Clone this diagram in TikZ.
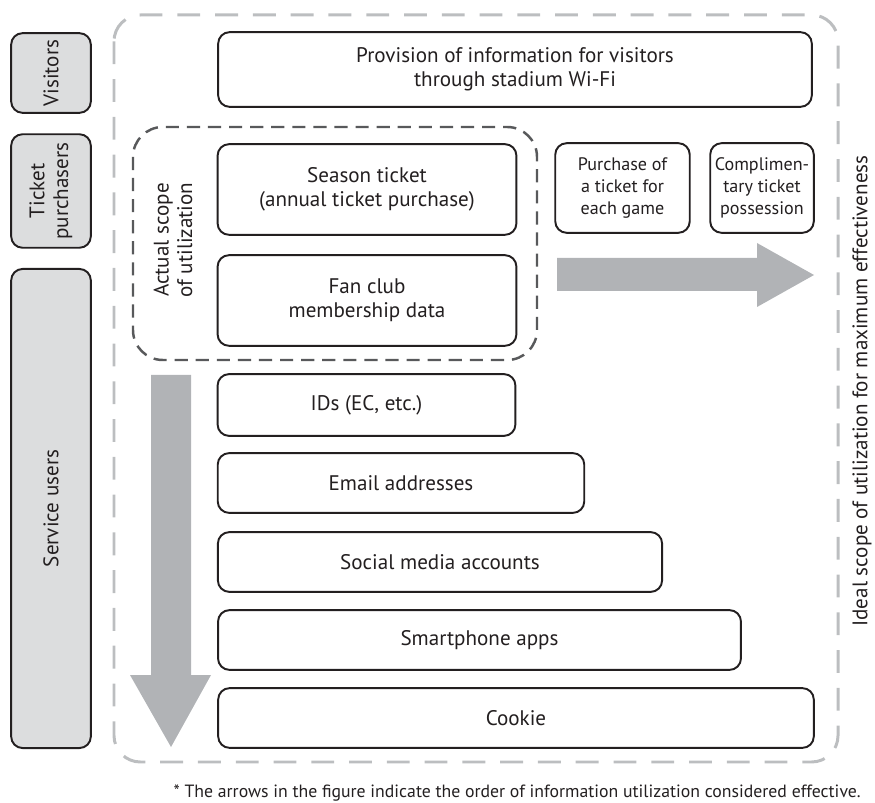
\documentclass[tikz,border=0pt]{standalone}
\usepackage{fontspec}
\setmainfont{PT Sans}
\definecolor{sidegray}{HTML}{DCDDDE}
\definecolor{outergray}{HTML}{BCBEC0}
\definecolor{innergray}{HTML}{58595B}
\definecolor{arrowgray}{HTML}{B1B3B6}
\definecolor{ink}{HTML}{231F20}
\tikzset{
  txt/.style={font=\fontsize{12}{13.5}\selectfont, text=ink, align=center},
  smalltxt/.style={font=\fontsize{10.3}{12.5}\selectfont},
  notetxt/.style={font=\fontsize{10.1}{12}\selectfont},
  sz/.style 2 args={minimum width=#1*0.5669pt, minimum height=#2*0.5669pt},
  box/.style={txt, draw=ink, line width=1.1pt, rounded corners=6.5pt, fill=white, inner sep=0pt},
  sidebox/.style={txt, draw=ink, line width=1.1pt, rounded corners=6.5pt, fill=sidegray, inner sep=0pt, rotate=90},
  outerdash/.style={draw=outergray, line width=1.7pt, rounded corners=15pt, dash pattern=on 13pt off 8.5pt},
  innerdash/.style={draw=innergray, line width=1.4pt, rounded corners=17pt, dash pattern=on 7.5pt off 4.5pt},
  bigarrow/.style={fill=arrowgray, draw=none},
}
\begin{document}
\begin{tikzpicture}[x=0.02cm,y=-0.02cm]
\useasboundingbox (0,0) rectangle (875,803);
% outer dashed scope
\draw[outerdash] (114,15) rectangle (838,762);
% side categories
\node[sidebox, sz={80}{80}] (vis) at (51,73) {Visitors};
\node[sidebox, sz={114}{80}] (tick) at (51,191) {Ticket\\purchasers};
\node[sidebox, sz={481}{80}] (serv) at (51,508.5) {Service users};
% inner dashed scope
\draw[innerdash] (133,127) rectangle (537,360);
\node[txt, rotate=90] (actual) at (173,240) {Actual scope\\of utilization};
% arrows
\draw[bigarrow] (557,258) -- (757,258) -- (757,243) -- (814,275) -- (757,307) -- (757,291) -- (557,291) -- cycle;
\draw[bigarrow] (151,375) -- (191,375) -- (191,675) -- (211,675) -- (171,747) -- (130,675) -- (151,675) -- cycle;
% boxes
\node[box, sz={596}{75}] (prov) at (515,69.5) {Provision of information for visitors\\through stadium Wi-Fi};
\node[box, sz={300}{91}] (season) at (367,189.5) {Season ticket\\(annual ticket purchase)};
\node[box, sz={300}{91}] (fan) at (367,300.5) {Fan club\\membership data};
\node[box, smalltxt, sz={135}{90}] (purch) at (622.5,188) {Purchase of\\a ticket for\\each game};
\node[box, smalltxt, sz={104}{90}] (comp) at (762,188) {Complimen-\\tary ticket\\possession};
\node[box, sz={299}{62}] (ids) at (366.5,405) {IDs (EC, etc.)};
\node[box, sz={368}{60}] (email) at (401,483) {Email addresses};
\node[box, sz={446}{60}] (social) at (440,562) {Social media accounts};
\node[box, sz={525}{60}] (smart) at (479.5,640) {Smartphone apps};
\node[box, sz={598}{60}] (cookie) at (516,718) {Cookie};
% right label
\node[txt, rotate=90] (ideal) at (862,391) {Ideal scope of utilization for maximum effectiveness};
% footnote
\node[txt, notetxt, anchor=base east, inner sep=0pt] (note) at (861,797) {* The arrows in the figure indicate the order of information utilization considered effective.};
\end{tikzpicture}
\end{document}
